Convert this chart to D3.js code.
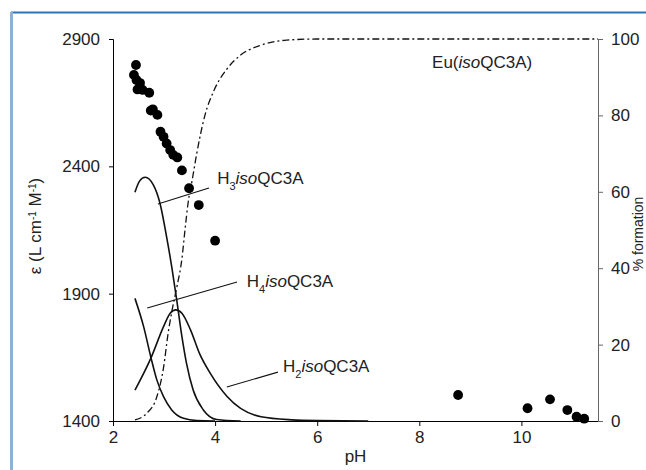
<!DOCTYPE html>
<html>
<head>
<meta charset="utf-8">
<script src="https://cdn.jsdelivr.net/npm/d3@7"></script>
<style>
  body { margin: 0; background: #fff; }
  svg { display: block; font-family: "Liberation Sans", Arial, sans-serif; }
</style>
</head>
<body>
<div id="chart"></div>
<script>
// measured absorptivity (left axis)
var epsPH  = [2.45, 2.41, 2.46, 2.53, 2.48, 2.58, 2.71, 2.74, 2.78, 2.87, 2.93, 2.99, 3.05, 3.12, 3.18, 3.26, 3.35, 3.49, 3.68, 4.00, 8.76, 10.12, 10.56, 10.90, 11.08, 11.23];
var epsVal = [2798, 2759, 2739, 2727, 2702, 2700, 2689, 2619, 2624, 2602, 2536, 2516, 2490, 2464, 2445, 2435, 2384, 2314, 2248, 2108, 1502, 1450, 1485, 1443, 1417, 1409];

// species distribution (right axis, % formation)
var h3PH  = [2.43, 2.52, 2.63, 2.79, 2.92, 3.05, 3.15, 3.25, 3.35, 3.44, 3.57, 3.77, 4.03, 4.5];
var h3Pct = [59.9, 62.8, 63.8, 61.8, 57.0, 48.2, 40.4, 31.5, 22.1, 15.1, 8.1, 2.9, 0.4, 0];

var h4PH  = [2.43, 2.60, 2.74, 2.86, 2.99, 3.15, 3.38, 3.64, 4.0];
var h4Pct = [32.1, 24.7, 16.8, 10.7, 6.4, 2.9, 0.7, 0.1, 0];

var h2PH  = [2.43, 2.74, 2.99, 3.12, 3.23, 3.35, 3.52, 3.70, 3.90, 4.23, 4.9, 5.5, 6.0, 7.0];
var h2Pct = [8.1, 16.4, 24.7, 28.2, 29.1, 28.2, 23.8, 17.5, 12.6, 6.5, 1.1, 0.3, 0.1, 0];

var euPH  = [2.43, 2.66, 2.86, 2.99, 3.08, 3.15, 3.25, 3.35, 3.41, 3.47, 3.55, 3.64, 3.80, 3.98, 4.24, 4.5, 4.9, 5.4, 6.0, 11.5];
var euPct = [0.3, 2.0, 6.4, 14.0, 23.0, 28.5, 35.0, 42.5, 50.0, 57.0, 63.0, 70.0, 80.0, 86.6, 92.3, 95.8, 98.4, 99.7, 100, 100];

var xTicks = [2, 4, 6, 8, 10];
var yLeftTicks = [1400, 1900, 2400, 2900];
var yRightTicks = [0, 20, 40, 60, 80, 100];

var W = 646, H = 470;
var margin = { top: 39, right: 48, bottom: 49, left: 113 },
    width = W - margin.left - margin.right,
    height = H - margin.top - margin.bottom;

var svg = d3.select("#chart")
    .append("svg")
    .attr("width", W)
    .attr("height", H);

// frame of the original figure panel
svg.append("line")
    .attr("x1", 11).attr("y1", 12.5).attr("x2", W).attr("y2", 12.5)
    .attr("stroke", "#2f74b5").attr("stroke-width", 2);
svg.append("line")
    .attr("x1", 11.5).attr("y1", 12).attr("x2", 11.5).attr("y2", H)
    .attr("stroke", "#8fb2d0").attr("stroke-width", 3);

var g = svg.append("g")
    .attr("transform", "translate(" + margin.left + "," + margin.top + ")");

var x = d3.scaleLinear().domain([2, 11.5]).range([0, width]);
var yL = d3.scaleLinear().domain([1400, 2900]).range([height, 0]);
var yR = d3.scaleLinear().domain([0, 100]).range([height, 0]);

// axes
var xAxis = g.append("g")
    .attr("transform", "translate(0," + height + ")")
    .call(d3.axisBottom(x).tickValues(xTicks).tickSize(5).tickPadding(5).tickFormat(d3.format("d")));
xAxis.select(".domain").attr("d", "M0,0.5H" + width).attr("stroke", "#000");

var leftAxis = g.append("g")
    .call(d3.axisLeft(yL).tickValues(yLeftTicks).tickSize(4).tickPadding(9).tickFormat(d3.format("d")));
leftAxis.select(".domain").attr("d", "M-4,0.5H0.5V" + height);

var rightAxis = g.append("g")
    .attr("transform", "translate(" + width + ",0)")
    .call(d3.axisRight(yR).tickValues(yRightTicks).tickSize(5).tickPadding(8));
rightAxis.select(".domain").attr("stroke", "#666").attr("d", "M5,0.5H0.5V" + height);
rightAxis.selectAll(".tick line").attr("stroke", "#666");

g.selectAll(".tick text")
    .style("font-size", "17px")
    .style("font-family", "Liberation Sans, Arial, sans-serif")
    .attr("fill", "#222");

// axis titles
svg.append("text")
    .attr("x", margin.left + width / 2)
    .attr("y", 462)
    .attr("text-anchor", "middle")
    .style("font-size", "17px")
    .attr("fill", "#222")
    .text("pH");

var yTitle = svg.append("text")
    .attr("transform", "translate(41," + (margin.top + height / 2 - 4) + ") rotate(-90)")
    .attr("text-anchor", "middle")
    .style("font-size", "17px")
    .attr("fill", "#222");
yTitle.append("tspan").text("ε (L cm");
yTitle.append("tspan").attr("baseline-shift", "super").style("font-size", "10px").text("-1");
yTitle.append("tspan").text(" M");
yTitle.append("tspan").attr("baseline-shift", "super").style("font-size", "10px").text("-1");
yTitle.append("tspan").text(")");

// right title reads bottom to top, hugging the right edge
svg.append("text")
    .attr("transform", "translate(643," + (margin.top + height / 2 + 4) + ") rotate(-90)")
    .attr("text-anchor", "middle")
    .style("font-size", "14px")
    .attr("fill", "#222")
    .text("% formation");

// species curves
var line = d3.line()
    .x(function (d) { return x(d[0]); })
    .y(function (d) { return yR(d[1]); })
    .curve(d3.curveMonotoneX);

var species = [
    { px: h3PH, py: h3Pct, dash: null },
    { px: h4PH, py: h4Pct, dash: null },
    { px: h2PH, py: h2Pct, dash: null },
    { px: euPH, py: euPct, dash: "7,3,2,3" }
];

species.forEach(function (s) {
    g.append("path")
        .datum(d3.zip(s.px, s.py))
        .attr("fill", "none")
        .attr("stroke", "#111")
        .attr("stroke-width", s.dash ? 1.3 : 1.6)
        .attr("stroke-dasharray", s.dash)
        .attr("d", line);
});

// dots
g.selectAll("circle")
    .data(d3.zip(epsPH, epsVal))
    .enter()
    .append("circle")
    .attr("cx", function (d) { return x(d[0]); })
    .attr("cy", function (d) { return yL(d[1]); })
    .attr("r", 4.9)
    .attr("fill", "#000");

// labels with leader lines (pH / % coordinates)
var labels = [
    { sub: "3", tx: 4.04, ty: 62.0, l: [[2.88, 56.8], [3.88, 61.0]] },
    { sub: "4", tx: 4.62, ty: 35.1, l: [[2.67, 29.6], [4.43, 36.4]] },
    { sub: "2", tx: 5.33, ty: 12.8, l: [[4.23, 8.9], [5.23, 12.8]] }
];

labels.forEach(function (d) {
    g.append("line")
        .attr("x1", x(d.l[0][0])).attr("y1", yR(d.l[0][1]))
        .attr("x2", x(d.l[1][0])).attr("y2", yR(d.l[1][1]))
        .attr("stroke", "#111").attr("stroke-width", 1.1);
    var t = g.append("text")
        .attr("x", x(d.tx)).attr("y", yR(d.ty))
        .style("font-size", "17px")
        .attr("fill", "#222");
    t.append("tspan").text("H");
    t.append("tspan").attr("baseline-shift", "sub").style("font-size", "11px").text(d.sub);
    t.append("tspan").style("font-style", "italic").text("iso");
    t.append("tspan").text("QC3A");
});

var eu = g.append("text")
    .attr("x", x(8.25)).attr("y", yR(92.4))
    .style("font-size", "17px")
    .attr("fill", "#222");
eu.append("tspan").text("Eu(");
eu.append("tspan").style("font-style", "italic").text("iso");
eu.append("tspan").text("QC3A)");
</script>
</body>
</html>
